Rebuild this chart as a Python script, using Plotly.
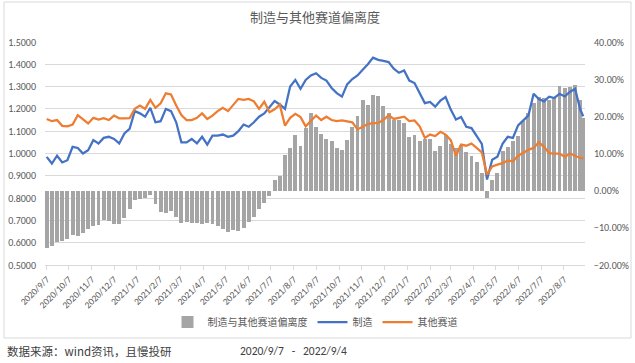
import pandas as pd
import plotly.graph_objects as go

dates = list(pd.date_range("2020-09-07", periods=104, freq="7D").strftime("%Y-%m-%d")) + ["2022-09-02"]

manufacturing = [
    0.985, 0.955, 0.99, 0.96, 0.97, 1.03, 1.025, 1.00, 1.015, 1.06,
    1.045, 1.07, 1.075, 1.065, 1.045, 1.09, 1.11, 1.19, 1.18, 1.165,
    1.205, 1.14, 1.145, 1.20, 1.19, 1.14, 1.05, 1.05, 1.065, 1.045,
    1.075, 1.04, 1.08, 1.08, 1.085, 1.075, 1.08, 1.10, 1.13, 1.12,
    1.14, 1.165, 1.18, 1.21, 1.235, 1.22, 1.20, 1.30, 1.33, 1.29,
    1.33, 1.35, 1.36, 1.339, 1.327, 1.294, 1.271, 1.255, 1.31, 1.334,
    1.35, 1.376, 1.40, 1.43, 1.42, 1.415, 1.41, 1.38, 1.362, 1.372,
    1.327, 1.316, 1.271, 1.226, 1.231, 1.21, 1.237, 1.253, 1.197, 1.152,
    1.164, 1.12, 1.114, 1.08, 1.043, 0.883, 0.972, 0.986, 1.043, 1.075,
    1.07, 1.126, 1.147, 1.171, 1.268, 1.244, 1.234, 1.255, 1.249, 1.268,
    1.256, 1.276, 1.29, 1.197, 1.167,
]

others = [
    1.155, 1.145, 1.15, 1.124, 1.122, 1.13, 1.172, 1.155, 1.135, 1.16,
    1.152, 1.158, 1.15, 1.17, 1.158, 1.157, 1.158, 1.20, 1.215, 1.20,
    1.24, 1.205, 1.225, 1.27, 1.265, 1.215, 1.172, 1.15, 1.15, 1.16,
    1.18, 1.155, 1.17, 1.19, 1.205, 1.19, 1.22, 1.245, 1.241, 1.245,
    1.234, 1.20, 1.232, 1.185, 1.198, 1.219, 1.125, 1.16, 1.178, 1.163,
    1.122, 1.144, 1.17, 1.15, 1.165, 1.15, 1.145, 1.148, 1.145, 1.14,
    1.108, 1.12, 1.132, 1.136, 1.137, 1.15, 1.172, 1.155, 1.159, 1.165,
    1.145, 1.148, 1.122, 1.07, 1.085, 1.078, 1.097, 1.085, 1.06, 0.99,
    1.04, 1.035, 1.045, 1.025, 1.005, 0.905, 0.942, 0.95, 0.957, 0.968,
    0.965, 0.99, 1.003, 1.017, 1.025, 1.05, 1.03, 1.002, 1.00, 1.0,
    0.985, 1.0, 0.99, 0.98, 0.978,
]

deviation_pct = [
    -15.5, -14.8, -13.8, -13.5, -13.0, -11.8, -12.3, -11.5, -10.3, -9.6,
    -9.2, -7.8, -8.1, -8.9, -8.9, -7.4, -5.0, -2.6, -2.2, -2.1,
    -1.2, -3.5, -5.8, -6.0, -5.6, -7.0, -8.8, -8.4, -8.6, -8.7,
    -9.1, -8.8, -9.1, -9.6, -10.4, -11.0, -10.6, -10.8, -10.0, -8.4,
    -7.0, -4.8, -3.2, -1.5, 3.0, 4.0, 9.5, 11.5, 15.0, 12.0,
    16.9, 21.0, 17.0, 15.3, 13.8, 13.3, 11.5, 11.0, 13.5, 17.0,
    20.0, 24.5, 23.1, 25.8, 25.5, 22.8, 21.0, 19.0, 18.9, 18.2,
    14.5, 15.0, 13.4, 14.0, 14.0, 10.8, 11.9, 15.0, 12.5, 11.5,
    12.3, 10.3, 9.2, 7.7, 4.8, -2.0, 3.0, 4.8, 10.6, 11.8,
    13.3, 14.8, 18.8, 21.0, 23.6, 25.2, 24.8, 24.5, 25.0, 28.1,
    27.6, 28.0, 28.5, 24.5, 19.6,
]
deviation = [v / 100 for v in deviation_pct]

TITLE = "制造与其他赛道偏离度"
NAMES = ["制造与其他赛道偏离度", "制造", "其他赛道"]
SOURCE = "数据来源：wind资讯，且慢投研"
PERIOD = "2020/9/7   -   2022/9/4"

FONT = "Calibri, Carlito, 'Liberation Sans', 'Noto Sans CJK SC', sans-serif"
CJK = "'Noto Sans CJK SC', sans-serif"
TXT = "#595959"
GRID = "#d9d9d9"

fig = go.Figure()
fig.add_trace(go.Bar(
    x=dates, y=deviation, name=NAMES[0], yaxis="y",
    marker=dict(color="#A5A5A5", line=dict(width=0)),
    width=5.3 * 86400000,
))
fig.add_trace(go.Scatter(
    x=dates, y=manufacturing, name=NAMES[1], yaxis="y2", mode="lines",
    line=dict(color="#4472C4", width=2.25),
))
fig.add_trace(go.Scatter(
    x=dates, y=others, name=NAMES[2], yaxis="y2", mode="lines",
    line=dict(color="#ED7D31", width=2.25),
))

fig.update_layout(
    width=635, height=363,
    margin=dict(l=45, r=50, t=42, b=98, autoexpand=False),
    paper_bgcolor="white", plot_bgcolor="white",
    font=dict(family=FONT, color=TXT, size=10),
    title=dict(text=TITLE, x=0.5, xref="paper", y=0.953, yanchor="middle",
               font=dict(family=CJK, size=13, color=TXT)),
    showlegend=True,
    legend=dict(orientation="h", x=0.5, xanchor="center", xref="paper",
                y=-0.256, yanchor="middle", font=dict(family=CJK, size=10, color=TXT),
                itemwidth=30, tracegroupgap=0, bgcolor="rgba(0,0,0,0)"),
    xaxis=dict(
        type="date", range=["2020-09-04 17:00", "2022-09-04 10:00"],
        tick0="2020-09-07", dtick="M1", tickformat="%Y/%-m/%-d", tickangle=-45,
        ticks="outside", ticklen=4, tickcolor=GRID, showline=True, linecolor=GRID,
        showgrid=False, zeroline=False, tickfont=dict(size=9.5, color=TXT),
    ),
    yaxis=dict(
        side="right", range=[-0.2, 0.4], dtick=0.1, tickformat=".2%",
        showgrid=False, zeroline=False, ticks="", ticklabelstandoff=8,
        tickfont=dict(size=10, color=TXT),
    ),
    yaxis2=dict(
        side="left", overlaying="y", range=[0.5, 1.5], dtick=0.1, tickformat=".4f",
        showgrid=True, gridcolor=GRID, gridwidth=1, zeroline=False, ticks="",
        ticklabelstandoff=8, tickfont=dict(size=10, color=TXT),
    ),
    bargap=0,
    shapes=[dict(type="rect", xref="paper", yref="paper",
                 x0=(4 - 45) / 540, x1=(631 - 45) / 540,
                 y0=(265 - 338) / 223, y1=(265 - 2) / 223,
                 line=dict(color=GRID, width=1), fillcolor="rgba(0,0,0,0)", layer="below")],
    annotations=[
        dict(text=SOURCE, xref="paper", yref="paper", x=(5 - 45) / 540, xanchor="left",
             y=(265 - 351) / 223, yanchor="middle", showarrow=False,
             font=dict(family=CJK, size=11.5, color="#404040")),
        dict(text=PERIOD, xref="paper", yref="paper", x=(238 - 45) / 540, xanchor="left",
             y=(265 - 351) / 223, yanchor="middle", showarrow=False,
             font=dict(family=FONT, size=11.5, color="#404040")),
    ],
)

fig.write_html("out.html", config={"displayModeBar": False},
               post_script="document.body.style.margin='0';document.body.style.overflow='hidden';")
